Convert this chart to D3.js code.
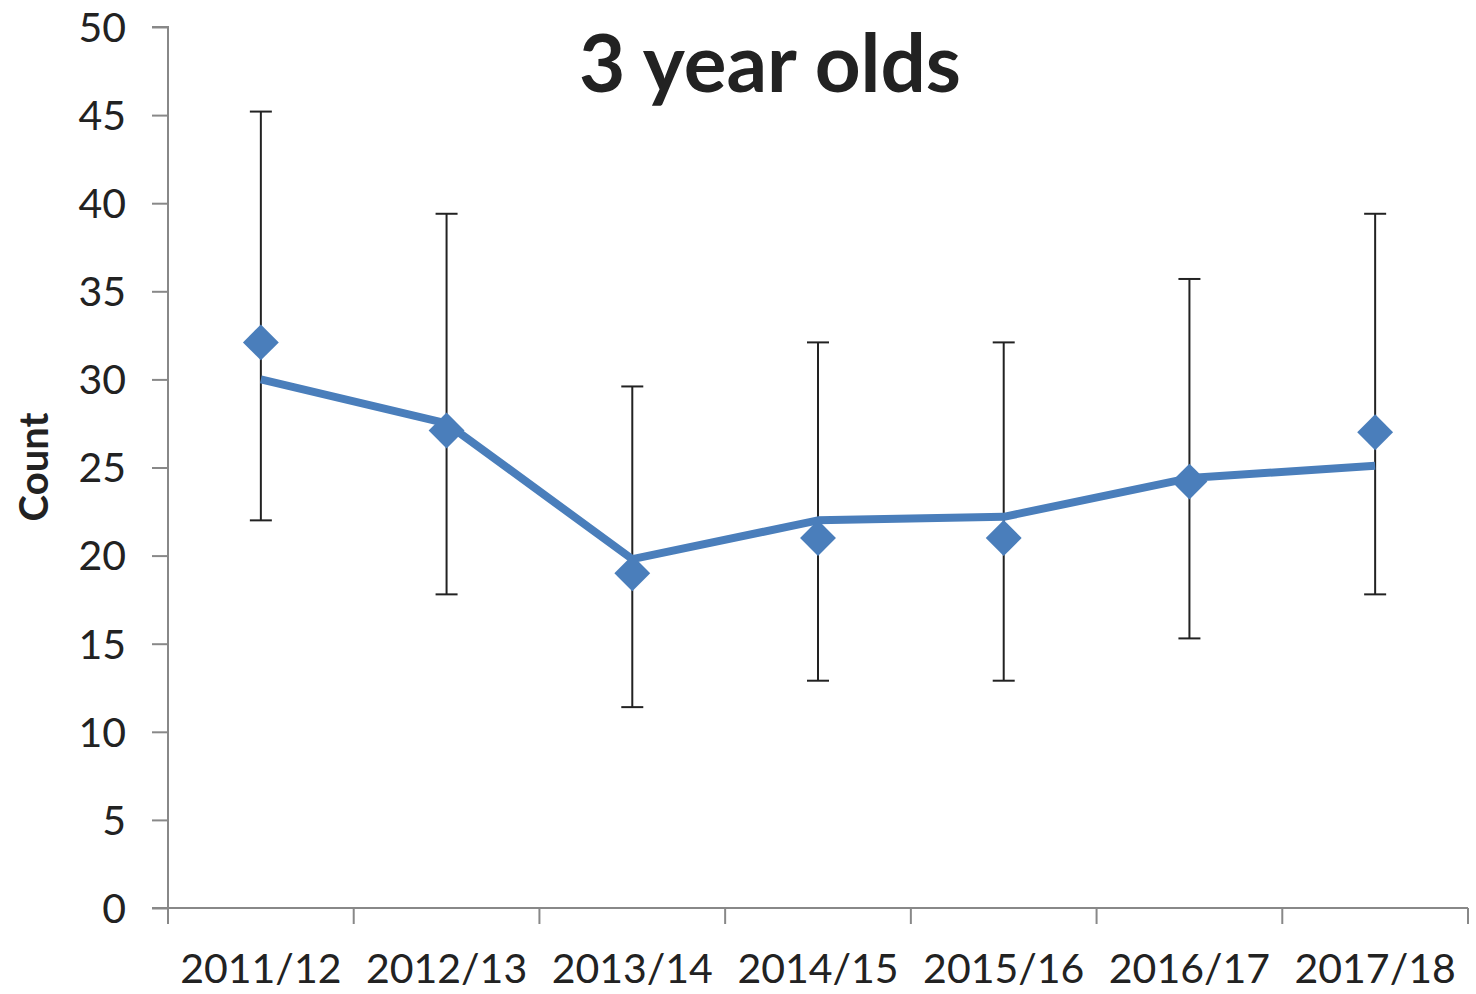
<!DOCTYPE html>
<html><head><meta charset="utf-8">
<script src="https://cdn.jsdelivr.net/npm/d3@7"></script>
<style>body{margin:0;background:#fff}svg{display:block}</style>
</head><body>
<svg id="c" width="1476" height="994"></svg>
<script>
const categories = ["2011/12","2012/13","2013/14","2014/15","2015/16","2016/17","2017/18"];
const pointValues = [32.1, 27.1, 19.0, 21.0, 21.0, 24.2, 27.0];
const lineValues = [30.0, 27.5, 19.8, 22.0, 22.2, 24.4, 25.1];
const errLow = [22.0, 17.8, 11.4, 12.9, 12.9, 15.3, 17.8];
const errHigh = [45.2, 39.4, 29.6, 32.1, 32.1, 35.7, 39.4];
const yTicks = [0,5,10,15,20,25,30,35,40,45,50];
const title = "3 year olds";
const yLabel = "Count";

(function(){
const svg = d3.select("#c");
const font = "Lato, 'Open Sans', sans-serif";
const pL = 168, pR = 1468, pT = 27, pB = 908;
const x = d3.scaleBand().domain(categories).range([pL, pR]).padding(0);
const y = d3.scaleLinear().domain([0,50]).range([pB, pT]);
const blue = "#4a7ebb";

// y axis
const ya = svg.append("g").attr("transform", `translate(${pL},0)`)
  .call(d3.axisLeft(y).tickValues(yTicks).tickSize(16).tickPadding(12));
ya.select(".domain").attr("stroke", "#888").attr("stroke-width", 2).attr("d", `M-16,${pT}H0V${pB}`);
ya.selectAll(".tick line").attr("stroke", "#888").attr("stroke-width", 2);
ya.selectAll(".tick text").attr("font-family", font).attr("font-size", 41).attr("fill", "#222").attr("x", -42).attr("dy", "0.35em");

// x axis
const xa = svg.append("g").attr("transform", `translate(0,${pB})`)
  .call(d3.axisBottom(x).tickSize(0).tickPadding(46));
xa.select(".domain").attr("stroke", "#888").attr("stroke-width", 2).attr("d", `M${pL-16},0H${pR}`);
xa.selectAll(".tick text").attr("font-family", font).attr("font-size", 41).attr("fill", "#222");
const bounds = categories.map(c => x(c)).concat([pR]);
svg.append("g").selectAll("line").data(bounds).join("line")
  .attr("x1", d => d).attr("x2", d => d).attr("y1", pB).attr("y2", pB + 16)
  .attr("stroke", "#888").attr("stroke-width", 2);

const cx = c => x(c) + x.bandwidth()/2;

// error bars
const eb = svg.append("g").attr("stroke", "#222").attr("stroke-width", 2);
categories.forEach((c, i) => {
  eb.append("line").attr("x1", cx(c)).attr("x2", cx(c)).attr("y1", y(errHigh[i])).attr("y2", y(errLow[i]));
  [errHigh[i], errLow[i]].forEach(v => eb.append("line")
    .attr("x1", cx(c)-11).attr("x2", cx(c)+11).attr("y1", y(v)).attr("y2", y(v)));
});

// line
svg.append("path").datum(lineValues)
  .attr("d", d3.line().x((d,i) => cx(categories[i])).y(d => y(d)))
  .attr("fill", "none").attr("stroke", blue).attr("stroke-width", 8).attr("stroke-linejoin", "round");

// diamonds
svg.append("g").selectAll("path").data(pointValues).join("path")
  .attr("d", d3.symbol().type(d3.symbolDiamond2).size(820))
  .attr("transform", (d,i) => `translate(${cx(categories[i])},${y(d)})`)
  .attr("fill", blue);

svg.append("text").attr("x", 770).attr("y", 92).attr("text-anchor", "middle")
  .attr("font-family", font).attr("font-weight", "bold").attr("font-size", 80).attr("fill", "#222").text(title);
svg.append("text").attr("transform", "translate(48,467) rotate(-90)").attr("text-anchor", "middle")
  .attr("font-family", font).attr("font-weight", "bold").attr("font-size", 40).attr("fill", "#222").text(yLabel);
})();
</script>
</body></html>
